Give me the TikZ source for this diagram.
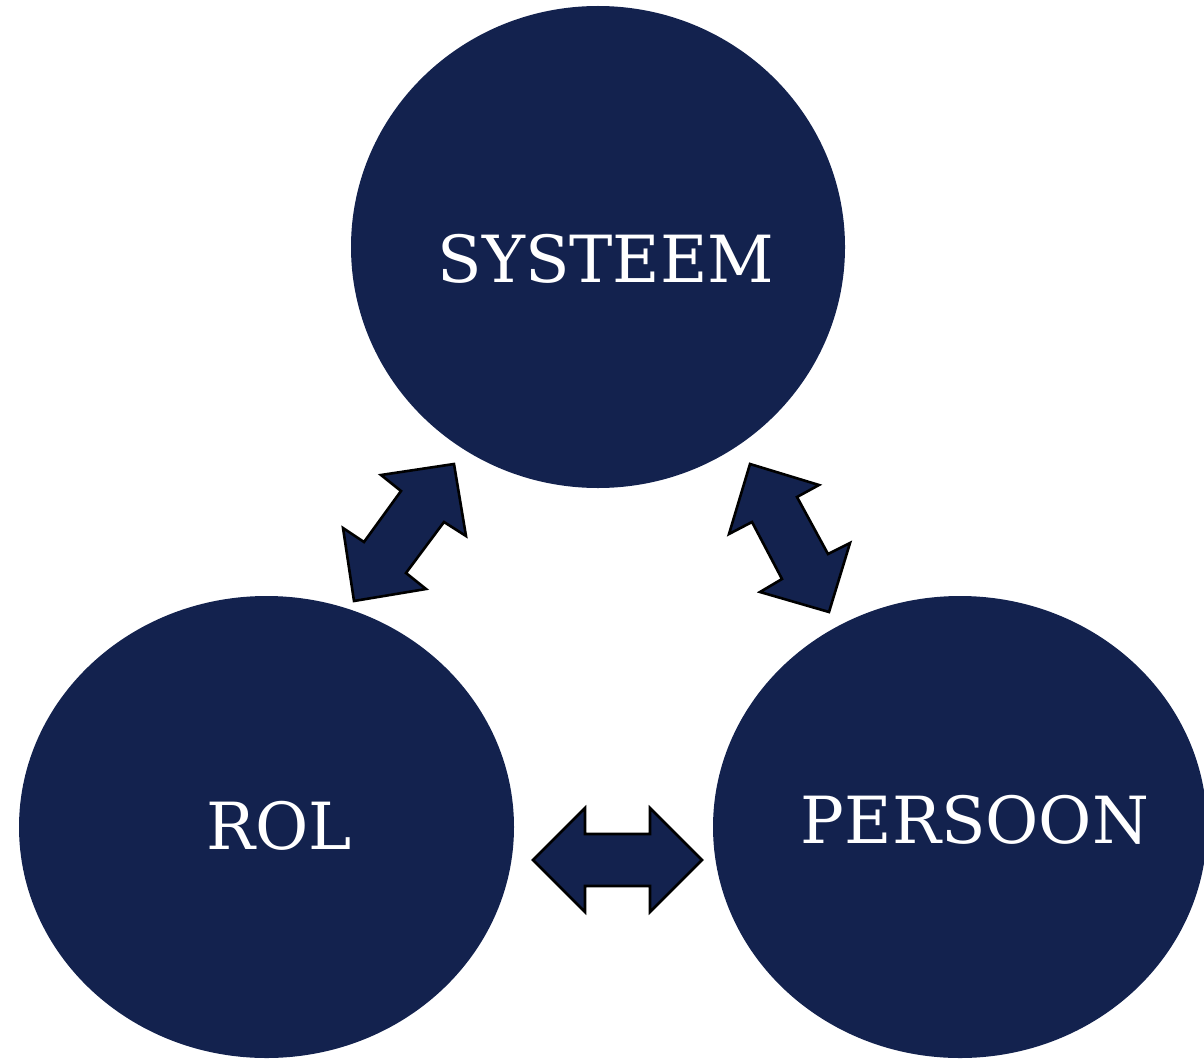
\documentclass[tikz,border=0pt]{standalone}
\usepackage{fontspec}
\setmainfont{DejaVu Serif}
\usetikzlibrary{shapes.geometric}
\definecolor{navy}{RGB}{19,34,78}
\tikzset{
  blob/.style={ellipse, fill=navy, draw=none, inner sep=0pt},
  lbl/.style={text=white, font=\fontsize{65}{70}\selectfont, inner sep=0pt, anchor=center},
  blockarrow/.style={fill=navy, draw=black, line width=2.6pt, line join=miter},
}
\begin{document}
\begin{tikzpicture}[x=1pt,y=-1pt]
\useasboundingbox (0,0) rectangle (1204,1062);
\node[blob, minimum width=494pt, minimum height=482pt] (systeem) at (598,247) {};
\node[blob, minimum width=495pt, minimum height=462pt] (rol) at (266.5,827) {};
\node[blob, minimum width=494pt, minimum height=462pt] (persoon) at (960,827) {};
\node[lbl] (tsysteem) at (606,259) {SYSTEEM};
\node[lbl] (trol) at (279,826) {ROL};
\node[lbl] (tpersoon) at (975,820) {PERSOON};
% block arrows
\draw[blockarrow] (454,464) -- (381,475) -- (401,491) -- (364,542) -- (343,528) -- (354,601) -- (426,589) -- (406,573) -- (444,522) -- (466,536) -- cycle;
\draw[blockarrow] (750,464) -- (819,485) -- (797,497) -- (828,554) -- (850,543) -- (829,612) -- (760,592) -- (782,579) -- (752,522) -- (729,534) -- cycle;
\draw[blockarrow] (533,860) -- (585,808) -- (585,834) -- (650,834) -- (650,808) -- (702,860) -- (650,912) -- (650,886) -- (585,886) -- (585,912) -- cycle;
\end{tikzpicture}
\end{document}
